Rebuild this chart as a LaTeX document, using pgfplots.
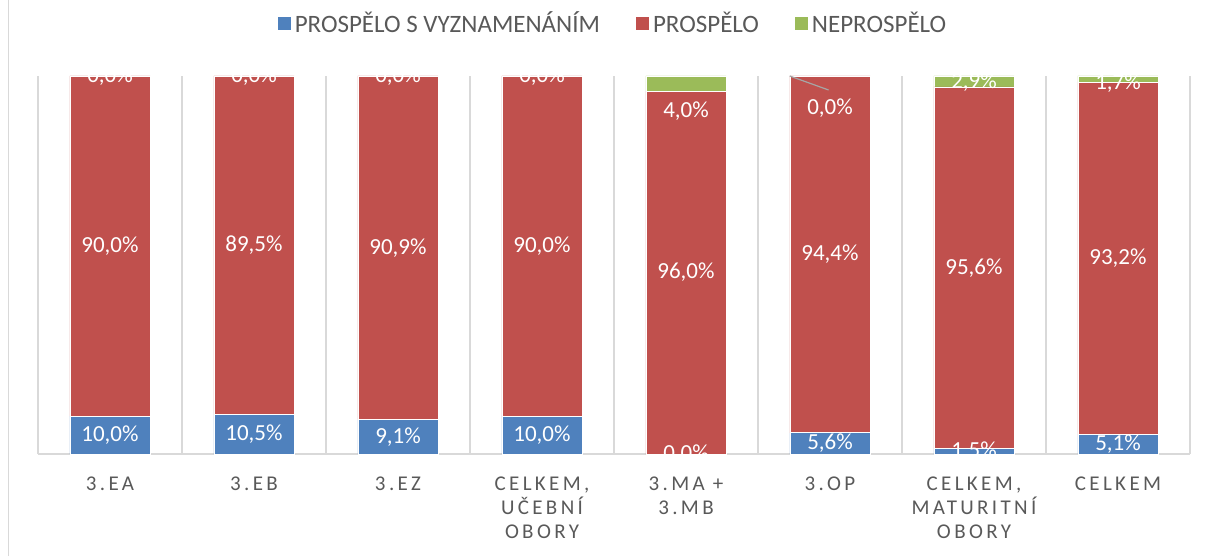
\documentclass[border=0pt]{standalone}
\usepackage{pgfplots}
\usepackage{pgfplotstable}
\pgfplotsset{compat=1.18}
\usepackage{fontspec}
\setmainfont{Carlito}
\newfontfamily\spaced[LetterSpace=16]{Carlito}

\definecolor{cblue}{HTML}{4F81BD}
\definecolor{cred}{HTML}{C0504D}
\definecolor{cgreen}{HTML}{9BBB59}
\definecolor{ctext}{HTML}{595959}
\definecolor{cgrid}{HTML}{D9D9D9}

% vyz = prospelo s vyznamenanim, pro = prospelo, nep = neprospelo, gly = where the green label sits
\pgfplotstableread{
x vyz  pro  nep gly
0 10.0 90.0 0.0 100
1 10.5 89.5 0.0 100
2 9.1  90.9 0.0 100
3 10.0 90.0 0.0 100
4 0.0  96.0 4.0 90.8
5 5.6  94.4 0.0 91.5
6 1.5  95.6 2.9 98.4
7 5.1  93.2 1.7 98.1
}\data

\pgfplotsset{
  base/.style={
    at={(19pt,51pt)}, anchor=south west,
    scale only axis, width=576pt, height=189pt,
    xmin=-0.5, xmax=7.5, ymin=0, ymax=100,
  }
}

\begin{document}
\begin{tikzpicture}[x=1pt,y=1pt]
\useasboundingbox (0,0) rectangle (604,278);
\draw[cgrid, line width=0.6pt] (4.25,0) -- (4.25,278);

\begin{axis}[base,
  ybar stacked, bar width=40pt,
  axis x line*=bottom, axis y line=none,
  x axis line style={cgrid, line width=0.8pt, -},
  xtick={0,...,7},
  xticklabels={3.EA, 3.EB, 3.EZ, {CELKEM,\\UČEBNÍ\\OBORY}, {3.MA +\\3.MB}, 3.OP, {CELKEM,\\MATURITNÍ\\OBORY}, CELKEM},
  xticklabel style={align=center, font=\spaced\fontsize{10.5pt}{12pt}\selectfont, text=ctext, anchor=north, yshift=-8pt},
  major tick length=0pt, minor tick length=0pt,
  minor xtick={-0.5,0.5,...,7.5},
  xminorgrids, minor x grid style={cgrid, line width=0.8pt},
  ytick=\empty,
  legend columns=3,
  legend style={at={(0.5,1)}, anchor=center, yshift=26pt, draw=none, fill=none,
    font=\fontsize{12.5pt}{14pt}\selectfont, text=ctext,
    /tikz/every even column/.append style={column sep=16pt}},
  legend image code/.code={\fill[#1, draw=none] (0pt,-3.25pt) rectangle (6.5pt,3.25pt);},
]
\addplot[fill=cblue, draw=white, line width=0.4pt] table[x=x, y=vyz]{\data};
\addplot[fill=cred, draw=white, line width=0.4pt] table[x=x, y=pro]{\data};
\addplot[fill=cgreen, draw=white, line width=0.4pt] table[x=x, y=nep]{\data};
\legend{PROSPĚLO S VYZNAMENÁNÍM, PROSPĚLO, NEPROSPĚLO}
\end{axis}

\begin{axis}[base, axis lines=none, ticks=none, clip mode=global,
  point meta=explicit,
  nodes near coords={\pgfmathprintnumber[fixed, fixed zerofill, precision=1, use comma, assume math mode=true]{\pgfplotspointmeta}\%},
  nodes near coords align=center,
  every node near coord/.append style={text=white, font=\fontsize{11.5pt}{13pt}\selectfont, anchor=center},
]
\addplot[draw=none, mark=none] table[x=x, y expr=\thisrow{vyz}/2, meta=vyz]{\data};
\addplot[draw=none, mark=none] table[x=x, y expr=\thisrow{vyz}+\thisrow{pro}/2, meta=pro]{\data};
\addplot[draw=none, mark=none] table[x=x, y=gly, meta=nep]{\data};
\draw[gray!70, line width=0.6pt] (axis cs:4.72,100) -- (axis cs:4.99,96.3);
\end{axis}
\end{tikzpicture}
\end{document}
